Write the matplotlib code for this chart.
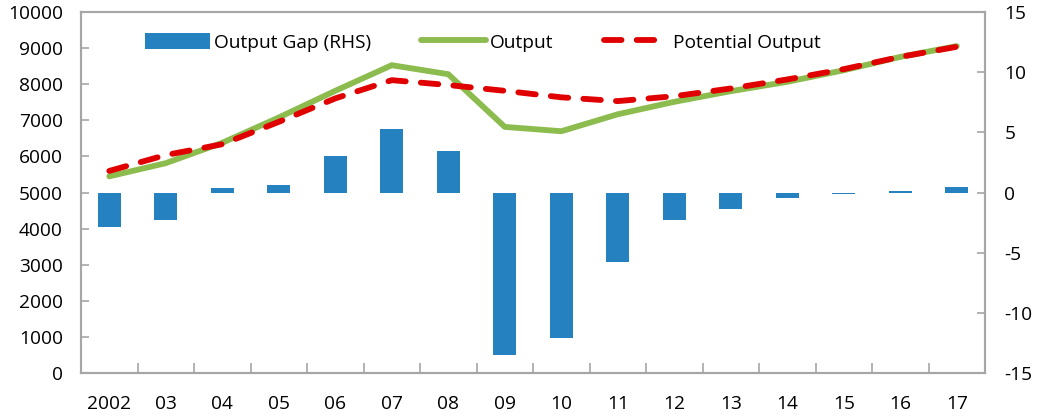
import numpy as np
import matplotlib
matplotlib.use("Agg")
from matplotlib import pyplot as plt
from matplotlib.ticker import FixedLocator

plt.rcParams['font.family'] = ['Open Sans', 'DejaVu Sans']
plt.rcParams['axes.unicode_minus'] = False

years = ["2002", "03", "04", "05", "06", "07", "08", "09", "10", "11", "12", "13", "14", "15", "16", "17"]
output = [5450, 5815, 6380, 7080, 7820, 8530, 8280, 6820, 6700, 7170, 7515, 7810, 8070, 8390, 8760, 9060]
potential = [5600, 6040, 6340, 6960, 7610, 8115, 7980, 7820, 7640, 7535, 7670, 7885, 8135, 8420, 8760, 9040]
gap = [-2.9, -2.3, 0.4, 0.6, 3.0, 5.3, 3.45, -13.5, -12.1, -5.75, -2.3, -1.35, -0.45, -0.15, 0.1, 0.43]

blue = "#2681c0"
green = "#8cbb4e"
red = "#e00000"
grey = "#a6a6a6"

x = np.arange(len(years))

fig = plt.figure(figsize=(10.43, 4.19), dpi=100)
ax = fig.add_axes([0.0777, 0.1098, 0.8667, 0.8612])
ax2 = ax.twinx()

bars = ax2.bar(x, gap, width=0.41, color=blue, label="Output Gap (RHS)")
l1, = ax.plot(x, output, color=green, lw=4.2, label="Output", solid_capstyle="round")
l2, = ax.plot(x, potential, color=red, lw=4.2, dashes=(3.0, 2.6), dash_capstyle="round",
              label="Potential Output")

ax.set_zorder(ax2.get_zorder() + 1)
ax.patch.set_visible(False)

ax.set_xlim(-0.5, len(years) - 0.5)
ax.set_ylim(0, 10000)
ax.set_yticks(np.arange(0, 10001, 1000))
ax2.set_ylim(-15, 15)
ax2.set_yticks(np.arange(-15, 16, 5))

ax.set_xticks(x)
ax.set_xticklabels(years)
ax.xaxis.set_minor_locator(FixedLocator(np.arange(0.5, len(years) - 1, 1)))
ax.tick_params(axis="x", which="major", length=0, pad=16, labelsize=13.8)
ax.tick_params(axis="x", which="minor", direction="in", length=7, color=grey, width=1.2)
ax.tick_params(axis="y", direction="in", length=6, color=grey, width=1.2, labelsize=13.8, pad=13)
ax2.tick_params(axis="y", direction="in", length=6, color=grey, width=1.2, labelsize=13.8, pad=14)

for a in (ax, ax2):
    for s in a.spines.values():
        s.set_color(grey)
        s.set_linewidth(1.5)

leg = ax.legend(handles=[bars, l1, l2], loc="upper left", bbox_to_anchor=(0.052, 0.99),
                ncol=3, frameon=False, fontsize=13.8, handlelength=3.4, handleheight=0.9,
                handletextpad=0.2, columnspacing=2.6)

fig.savefig("out.png", dpi=100)
